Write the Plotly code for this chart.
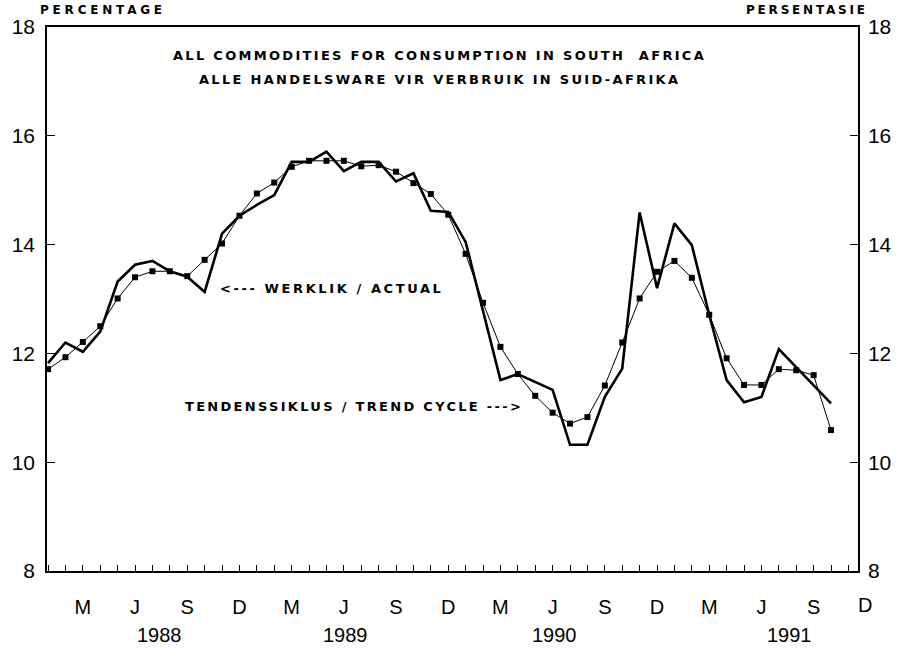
import plotly.graph_objects as go

# ---- data (monthly, Jan 1988 .. Oct 1991) ----
actual = [11.82, 12.20, 12.03, 12.40, 13.32, 13.63, 13.70, 13.51, 13.41, 13.13,
          14.20, 14.53, 14.73, 14.91, 15.52, 15.52, 15.71, 15.35, 15.52, 15.52,
          15.16, 15.31, 14.62, 14.60, 14.05, 12.80, 11.51, 11.62, 11.48, 11.33,
          10.32, 10.32, 11.20, 11.72, 14.59, 13.20, 14.39, 13.99, 12.71, 11.51,
          11.10, 11.20, 12.08, 11.75, 11.41, 11.08]
trend = [11.71, 11.93, 12.21, 12.50, 13.01, 13.40, 13.51, 13.51, 13.42, 13.72,
         14.02, 14.53, 14.94, 15.14, 15.43, 15.54, 15.54, 15.54, 15.44, 15.46,
         15.34, 15.13, 14.93, 14.55, 13.83, 12.93, 12.12, 11.62, 11.22, 10.91,
         10.71, 10.83, 11.41, 12.20, 13.01, 13.50, 13.70, 13.39, 12.71, 11.91,
         11.42, 11.42, 11.71, 11.69, 11.60, 10.59]
month_index = list(range(len(actual)))
quarter_labels = ["M", "J", "S", "D"]
years = ["1988", "1989", "1990", "1991"]
year_label_x = [6.4, 17.1, 29.1, 42.6]
y_ticks = [8, 10, 12, 14, 16, 18]

n_months = 48
tick_vals = list(range(n_months))
tick_text = [quarter_labels[(i % 12) // 3] if i % 3 == 2 else "" for i in tick_vals]

x_range = [-0.06, 46.55]
font_main = "Liberation Sans, Arial, sans-serif"
font_bold = "DejaVu Sans, sans-serif"


def spaced(txt, px):
    return '<span style="letter-spacing:%spx"><b>%s</b></span>' % (px, txt)


fig = go.Figure()
fig.add_trace(go.Scatter(
    x=month_index, y=actual, mode="lines",
    line=dict(color="black", width=2.6), name="Actual", showlegend=False,
    hoverinfo="skip"))
fig.add_trace(go.Scatter(
    x=month_index, y=trend, mode="lines+markers", yaxis="y2",
    line=dict(color="black", width=1),
    marker=dict(symbol="square", size=6, color="black"),
    name="Trend cycle", showlegend=False, hoverinfo="skip"))

fig.update_layout(
    width=911, height=652,
    margin=dict(l=47, r=53, t=27, b=81),
    paper_bgcolor="white", plot_bgcolor="white",
    font=dict(family=font_main, color="black", size=20),
    xaxis=dict(range=x_range, tickvals=tick_vals, ticktext=tick_text,
               ticks="inside", ticklen=6, tickwidth=1, tickcolor="black",
               showline=True, linecolor="black", linewidth=1.5, mirror=True,
               showgrid=False, zeroline=False, ticklabelstandoff=17,
               automargin=False,
               tickfont=dict(size=20, family=font_main)),
    yaxis=dict(range=[8, 18], tickvals=y_ticks, ticks="inside", ticklen=8,
               tickcolor="black", showline=True, linecolor="black", linewidth=1.5,
               showgrid=False, zeroline=False, ticklabelstandoff=6,
               automargin=False,
               tickfont=dict(size=21, family=font_main)),
    yaxis2=dict(range=[8, 18], tickvals=y_ticks, ticks="inside", ticklen=8,
                tickcolor="black", showline=True, linecolor="black", linewidth=1.5,
                showgrid=False, zeroline=False, overlaying="y", side="right",
                automargin=False,
                ticklabelstandoff=4, tickfont=dict(size=21, family=font_main)),
)

ann = []
# last "D" label (Dec 1991) sits just beyond the plotted range
last_frac = (tick_vals[-1] - x_range[0]) / (x_range[1] - x_range[0])
ann.append(dict(x=last_frac, xref="paper", y=-0.063, yref="paper",
                text=tick_text[-1], showarrow=False, xanchor="right", yanchor="middle",
                xshift=8, font=dict(size=20, family=font_main)))
for yl, xp in zip(years, year_label_x):
    ann.append(dict(x=xp, xref="x", y=-0.118, yref="paper", text=yl, showarrow=False,
                    xanchor="center", yanchor="middle",
                    font=dict(size=20, family=font_main)))
ann.append(dict(x=-0.011, xref="paper", y=1.031, yref="paper",
                text=spaced("PERCENTAGE", 3.8),
                showarrow=False, xanchor="left", yanchor="middle",
                font=dict(size=12, family=font_bold)))
ann.append(dict(x=1.015, xref="paper", y=1.031, yref="paper",
                text=spaced("PERSENTASIE", 2.8),
                showarrow=False, xanchor="right", yanchor="middle",
                font=dict(size=12, family=font_bold)))
ann.append(dict(x=22.5, xref="x", y=17.47, yref="y",
                text=spaced("ALL COMMODITIES FOR CONSUMPTION IN SOUTH  AFRICA", 2.3),
                showarrow=False, xanchor="center", yanchor="middle",
                font=dict(size=13, family=font_bold)))
ann.append(dict(x=22.5, xref="x", y=17.04, yref="y",
                text=spaced("ALLE HANDELSWARE VIR VERBRUIK IN SUID-AFRIKA", 2.3),
                showarrow=False, xanchor="center", yanchor="middle",
                font=dict(size=13, family=font_bold)))
ann.append(dict(x=9.75, xref="x", y=13.2, yref="y",
                text=spaced("&lt;--- WERKLIK / ACTUAL", 2.6),
                showarrow=False, xanchor="left", yanchor="middle",
                font=dict(size=13, family=font_bold)))
ann.append(dict(x=7.76, xref="x", y=11.03, yref="y",
                text=spaced("TENDENSSIKLUS / TREND CYCLE ---&gt;", 2.3),
                showarrow=False, xanchor="left", yanchor="middle",
                font=dict(size=13, family=font_bold)))
fig.update_layout(annotations=ann)

fig.write_html("out.html", config={"displayModeBar": False},
               post_script="document.body.style.margin='0px';document.body.style.overflow='hidden';")
